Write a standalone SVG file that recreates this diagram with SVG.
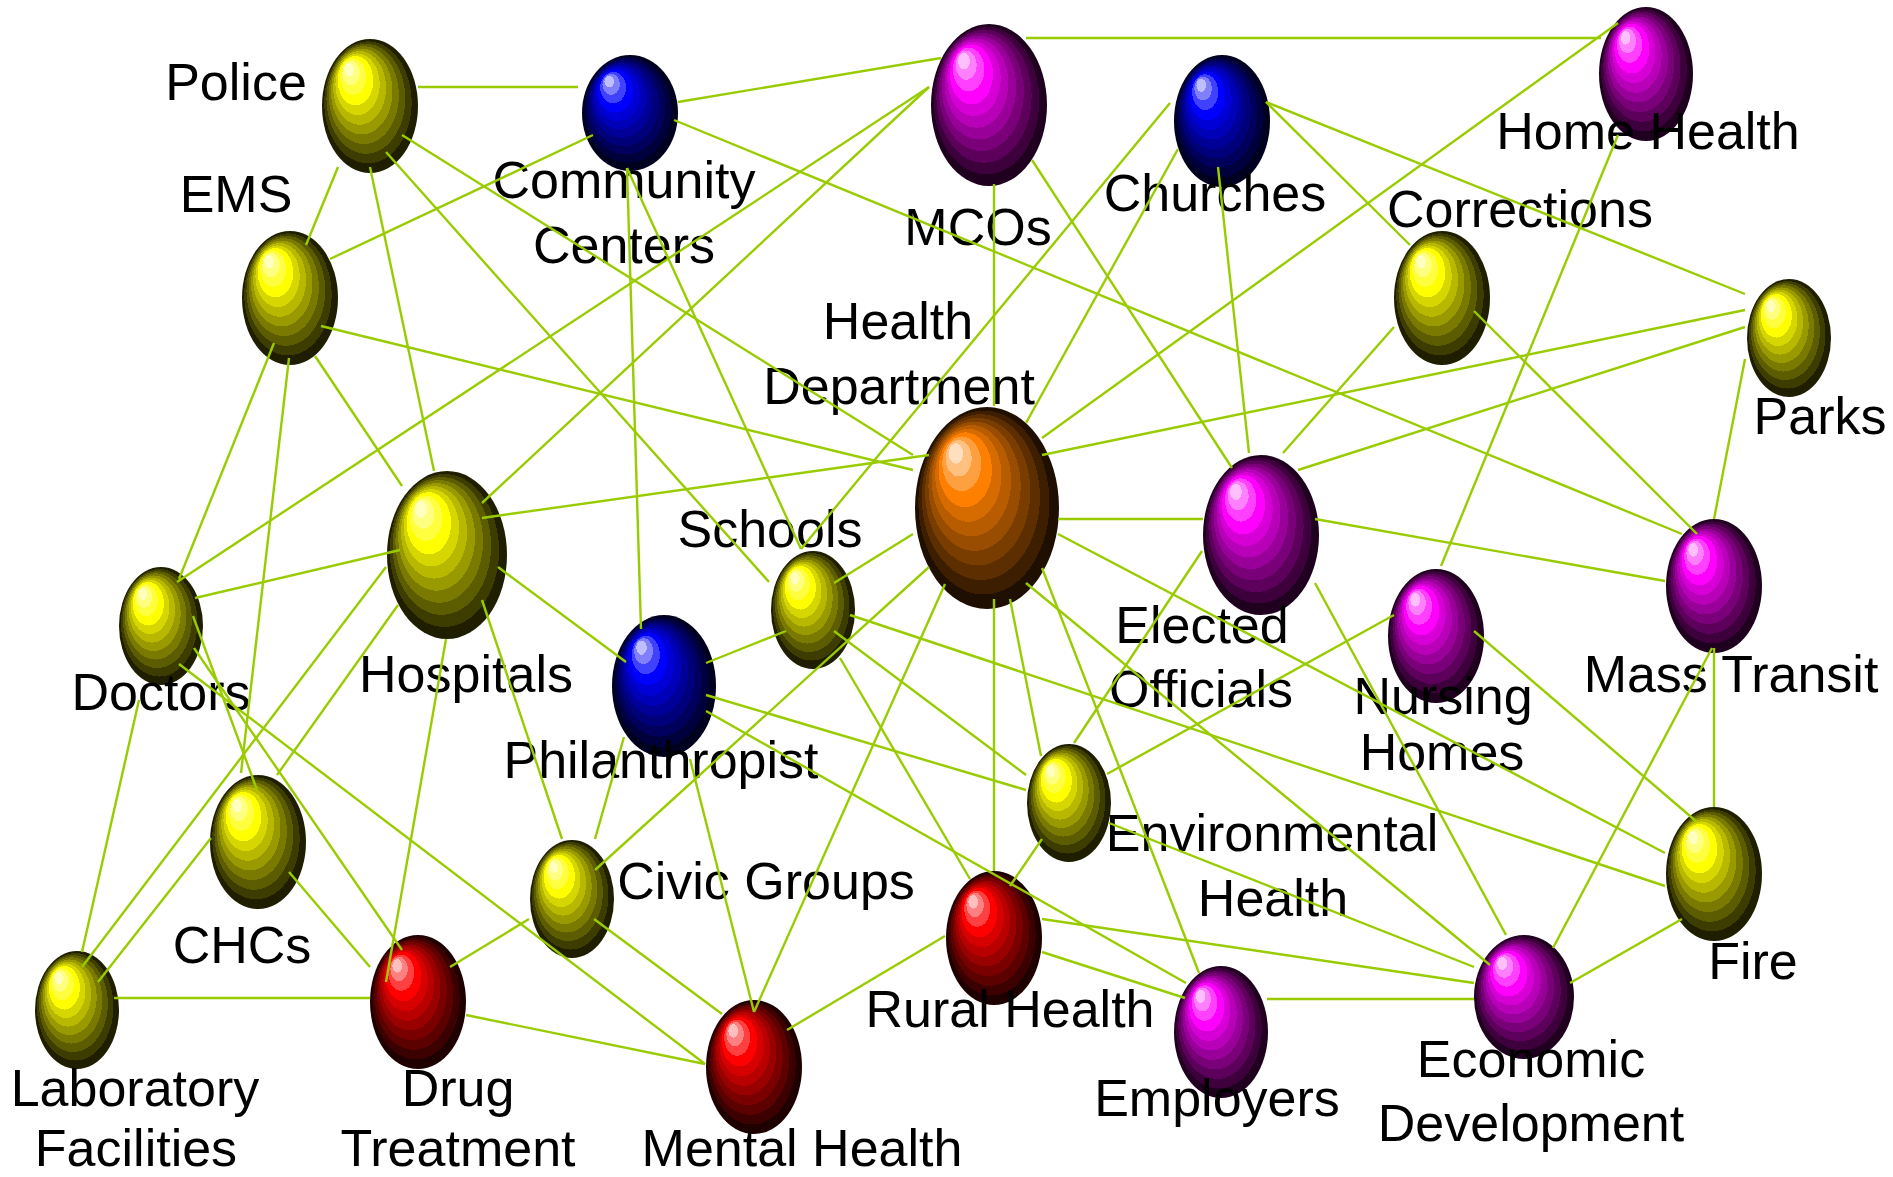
<svg xmlns="http://www.w3.org/2000/svg" width="1893" height="1177" viewBox="0 0 1893 1177">
<defs>
<style>
text{font-family:"Liberation Sans",Arial,sans-serif;font-size:52px;fill:#000;text-anchor:middle}
#connectors line{stroke:#99cc00;stroke-width:2.4;stroke-linecap:butt}
</style>
<radialGradient id="gO" cx="0.5" cy="0.5" r="0.5" fx="0.26" fy="0.2">
<stop offset="0" stop-color="#ffdfbf"/><stop offset="0.1" stop-color="#ffdfbf"/>
<stop offset="0.1" stop-color="#ffc080"/><stop offset="0.18" stop-color="#ffc080"/>
<stop offset="0.18" stop-color="#ffa040"/><stop offset="0.27" stop-color="#ffa040"/>
<stop offset="0.27" stop-color="#ff8000"/><stop offset="0.37" stop-color="#ff8000"/>
<stop offset="0.37" stop-color="#d66b00"/><stop offset="0.46" stop-color="#d66b00"/>
<stop offset="0.46" stop-color="#b85c00"/><stop offset="0.55" stop-color="#b85c00"/>
<stop offset="0.55" stop-color="#994d00"/><stop offset="0.64" stop-color="#994d00"/>
<stop offset="0.64" stop-color="#7a3d00"/><stop offset="0.73" stop-color="#7a3d00"/>
<stop offset="0.73" stop-color="#5c2e00"/><stop offset="0.82" stop-color="#5c2e00"/>
<stop offset="0.82" stop-color="#3d1f00"/><stop offset="0.91" stop-color="#3d1f00"/>
<stop offset="0.91" stop-color="#1f0f00"/><stop offset="1" stop-color="#1f0f00"/>
</radialGradient>
<radialGradient id="gY" cx="0.5" cy="0.5" r="0.5" fx="0.26" fy="0.2">
<stop offset="0" stop-color="#ffffbf"/><stop offset="0.1" stop-color="#ffffbf"/>
<stop offset="0.1" stop-color="#ffff80"/><stop offset="0.18" stop-color="#ffff80"/>
<stop offset="0.18" stop-color="#ffff40"/><stop offset="0.27" stop-color="#ffff40"/>
<stop offset="0.27" stop-color="#ffff00"/><stop offset="0.37" stop-color="#ffff00"/>
<stop offset="0.37" stop-color="#d6d600"/><stop offset="0.46" stop-color="#d6d600"/>
<stop offset="0.46" stop-color="#b8b800"/><stop offset="0.55" stop-color="#b8b800"/>
<stop offset="0.55" stop-color="#999900"/><stop offset="0.64" stop-color="#999900"/>
<stop offset="0.64" stop-color="#7a7a00"/><stop offset="0.73" stop-color="#7a7a00"/>
<stop offset="0.73" stop-color="#5c5c00"/><stop offset="0.82" stop-color="#5c5c00"/>
<stop offset="0.82" stop-color="#3d3d00"/><stop offset="0.91" stop-color="#3d3d00"/>
<stop offset="0.91" stop-color="#1f1f00"/><stop offset="1" stop-color="#1f1f00"/>
</radialGradient>
<radialGradient id="gB" cx="0.5" cy="0.5" r="0.5" fx="0.26" fy="0.2">
<stop offset="0" stop-color="#bfbfff"/><stop offset="0.1" stop-color="#bfbfff"/>
<stop offset="0.1" stop-color="#8080ff"/><stop offset="0.18" stop-color="#8080ff"/>
<stop offset="0.18" stop-color="#4040ff"/><stop offset="0.27" stop-color="#4040ff"/>
<stop offset="0.27" stop-color="#0000ff"/><stop offset="0.37" stop-color="#0000ff"/>
<stop offset="0.37" stop-color="#0000d6"/><stop offset="0.46" stop-color="#0000d6"/>
<stop offset="0.46" stop-color="#0000b8"/><stop offset="0.55" stop-color="#0000b8"/>
<stop offset="0.55" stop-color="#000099"/><stop offset="0.64" stop-color="#000099"/>
<stop offset="0.64" stop-color="#00007a"/><stop offset="0.73" stop-color="#00007a"/>
<stop offset="0.73" stop-color="#00005c"/><stop offset="0.82" stop-color="#00005c"/>
<stop offset="0.82" stop-color="#00003d"/><stop offset="0.91" stop-color="#00003d"/>
<stop offset="0.91" stop-color="#00001f"/><stop offset="1" stop-color="#00001f"/>
</radialGradient>
<radialGradient id="gM" cx="0.5" cy="0.5" r="0.5" fx="0.26" fy="0.2">
<stop offset="0" stop-color="#ffbfff"/><stop offset="0.1" stop-color="#ffbfff"/>
<stop offset="0.1" stop-color="#ff80ff"/><stop offset="0.18" stop-color="#ff80ff"/>
<stop offset="0.18" stop-color="#ff40ff"/><stop offset="0.27" stop-color="#ff40ff"/>
<stop offset="0.27" stop-color="#ff00ff"/><stop offset="0.37" stop-color="#ff00ff"/>
<stop offset="0.37" stop-color="#d600d6"/><stop offset="0.46" stop-color="#d600d6"/>
<stop offset="0.46" stop-color="#b800b8"/><stop offset="0.55" stop-color="#b800b8"/>
<stop offset="0.55" stop-color="#990099"/><stop offset="0.64" stop-color="#990099"/>
<stop offset="0.64" stop-color="#7a007a"/><stop offset="0.73" stop-color="#7a007a"/>
<stop offset="0.73" stop-color="#5c005c"/><stop offset="0.82" stop-color="#5c005c"/>
<stop offset="0.82" stop-color="#3d003d"/><stop offset="0.91" stop-color="#3d003d"/>
<stop offset="0.91" stop-color="#1f001f"/><stop offset="1" stop-color="#1f001f"/>
</radialGradient>
<radialGradient id="gR" cx="0.5" cy="0.5" r="0.5" fx="0.26" fy="0.2">
<stop offset="0" stop-color="#ffbfbf"/><stop offset="0.1" stop-color="#ffbfbf"/>
<stop offset="0.1" stop-color="#ff8080"/><stop offset="0.18" stop-color="#ff8080"/>
<stop offset="0.18" stop-color="#ff4040"/><stop offset="0.27" stop-color="#ff4040"/>
<stop offset="0.27" stop-color="#ff0000"/><stop offset="0.37" stop-color="#ff0000"/>
<stop offset="0.37" stop-color="#d60000"/><stop offset="0.46" stop-color="#d60000"/>
<stop offset="0.46" stop-color="#b80000"/><stop offset="0.55" stop-color="#b80000"/>
<stop offset="0.55" stop-color="#990000"/><stop offset="0.64" stop-color="#990000"/>
<stop offset="0.64" stop-color="#7a0000"/><stop offset="0.73" stop-color="#7a0000"/>
<stop offset="0.73" stop-color="#5c0000"/><stop offset="0.82" stop-color="#5c0000"/>
<stop offset="0.82" stop-color="#3d0000"/><stop offset="0.91" stop-color="#3d0000"/>
<stop offset="0.91" stop-color="#1f0000"/><stop offset="1" stop-color="#1f0000"/>
</radialGradient>
</defs>
<rect width="1893" height="1177" fill="#fff"/>
<g id="nodes">
<g id="police"><ellipse cx="370" cy="106" rx="48" ry="67" fill="url(#gY)"/><text x="236" y="100">Police</text></g>
<g id="community-centers"><ellipse cx="630" cy="113" rx="48" ry="58" fill="url(#gB)"/><text x="624" y="198">Community<tspan x="624" dy="65">Centers</tspan></text></g>
<g id="mcos"><ellipse cx="989" cy="105" rx="58" ry="81" fill="url(#gM)"/><text x="978" y="245">MCOs</text></g>
<g id="churches"><ellipse cx="1222" cy="121" rx="48" ry="66" fill="url(#gB)"/><text x="1215" y="211">Churches</text></g>
<g id="home-health"><ellipse cx="1646" cy="74" rx="47" ry="67" fill="url(#gM)"/><text x="1648" y="149">Home Health</text></g>
<g id="ems"><ellipse cx="290" cy="298" rx="48" ry="67" fill="url(#gY)"/><text x="236" y="212">EMS</text></g>
<g id="corrections"><ellipse cx="1442" cy="298" rx="48" ry="67" fill="url(#gY)"/><text x="1520" y="227">Corrections</text></g>
<g id="parks"><ellipse cx="1789" cy="338" rx="42" ry="59" fill="url(#gY)"/><text x="1820" y="434">Parks</text></g>
<g id="health-department"><ellipse cx="987" cy="508" rx="72" ry="101" fill="url(#gO)"/><text x="898" y="339">Health<tspan x="899" dy="65">Department</tspan></text></g>
<g id="elected-officials"><ellipse cx="1261" cy="535" rx="58" ry="80" fill="url(#gM)"/><text x="1202" y="643">Elected<tspan x="1201" dy="64">Officials</tspan></text></g>
<g id="hospitals"><ellipse cx="447" cy="555" rx="60" ry="84" fill="url(#gY)"/><text x="466" y="692">Hospitals</text></g>
<g id="doctors"><ellipse cx="161" cy="626" rx="42" ry="59" fill="url(#gY)"/><text x="161" y="710">Doctors</text></g>
<g id="schools"><ellipse cx="813" cy="610" rx="42" ry="59" fill="url(#gY)"/><text x="770" y="547">Schools</text></g>
<g id="philanthropist"><ellipse cx="664" cy="686" rx="52" ry="71" fill="url(#gB)"/><text x="661" y="778">Philanthropist</text></g>
<g id="nursing-homes"><ellipse cx="1436" cy="636" rx="48" ry="67" fill="url(#gM)"/><text x="1443" y="714">Nursing<tspan x="1442" dy="56">Homes</tspan></text></g>
<g id="mass-transit"><ellipse cx="1714" cy="586" rx="48" ry="67" fill="url(#gM)"/><text x="1731" y="692">Mass Transit</text></g>
<g id="chcs"><ellipse cx="258" cy="842" rx="48" ry="67" fill="url(#gY)"/><text x="242" y="963">CHCs</text></g>
<g id="environmental-health"><ellipse cx="1069" cy="803" rx="42" ry="59" fill="url(#gY)"/><text x="1272" y="851">Environmental<tspan x="1273" dy="65">Health</tspan></text></g>
<g id="civic-groups"><ellipse cx="572" cy="899" rx="42" ry="59" fill="url(#gY)"/><text x="766" y="899">Civic Groups</text></g>
<g id="fire"><ellipse cx="1714" cy="874" rx="48" ry="67" fill="url(#gY)"/><text x="1753" y="979">Fire</text></g>
<g id="rural-health"><ellipse cx="994" cy="938" rx="48" ry="67" fill="url(#gR)"/><text x="1010" y="1027">Rural Health</text></g>
<g id="laboratory-facilities"><ellipse cx="77" cy="1010" rx="42" ry="59" fill="url(#gY)"/><text x="135" y="1106">Laboratory<tspan x="136" dy="60">Facilities</tspan></text></g>
<g id="drug-treatment"><ellipse cx="418" cy="1002" rx="48" ry="67" fill="url(#gR)"/><text x="458" y="1106">Drug<tspan x="458" dy="60">Treatment</tspan></text></g>
<g id="mental-health"><ellipse cx="754" cy="1067" rx="48" ry="67" fill="url(#gR)"/><text x="802" y="1166">Mental Health</text></g>
<g id="employers"><ellipse cx="1221" cy="1032" rx="47" ry="66" fill="url(#gM)"/><text x="1217" y="1116">Employers</text></g>
<g id="economic-development"><ellipse cx="1524" cy="997" rx="50" ry="62" fill="url(#gM)"/><text x="1531" y="1077">Economic<tspan x="1531" dy="64">Development</tspan></text></g>
</g>
<g id="connectors">
<line x1="418" y1="87" x2="578" y2="87"/>
<line x1="338" y1="167" x2="306" y2="245"/>
<line x1="370" y1="167" x2="434" y2="471"/>
<line x1="386" y1="152" x2="769" y2="582"/>
<line x1="402" y1="135" x2="913" y2="455"/>
<line x1="593" y1="135" x2="330" y2="259"/>
<line x1="678" y1="102" x2="941" y2="58"/>
<line x1="674" y1="120" x2="1682" y2="534"/>
<line x1="627" y1="168" x2="641" y2="629"/>
<line x1="627" y1="168" x2="801" y2="549"/>
<line x1="1026" y1="38" x2="1601" y2="38"/>
<line x1="929" y1="87" x2="177" y2="582"/>
<line x1="929" y1="87" x2="482" y2="503"/>
<line x1="994" y1="184" x2="994" y2="406"/>
<line x1="1032" y1="160" x2="1232" y2="468"/>
<line x1="1170" y1="103" x2="801" y2="549"/>
<line x1="1178" y1="149" x2="1026" y2="423"/>
<line x1="1218" y1="167" x2="1249" y2="453"/>
<line x1="1266" y1="102" x2="1410" y2="245"/>
<line x1="1266" y1="102" x2="1745" y2="294"/>
<line x1="1042" y1="438" x2="1618" y2="23"/>
<line x1="1042" y1="455" x2="1745" y2="310"/>
<line x1="1394" y1="327" x2="1283" y2="453"/>
<line x1="1474" y1="311" x2="1697" y2="534"/>
<line x1="1618" y1="135" x2="1441" y2="566"/>
<line x1="1745" y1="327" x2="1298" y2="470"/>
<line x1="1745" y1="359" x2="1714" y2="519"/>
<line x1="1315" y1="519" x2="1665" y2="581"/>
<line x1="321" y1="326" x2="913" y2="470"/>
<line x1="315" y1="356" x2="402" y2="486"/>
<line x1="274" y1="343" x2="179" y2="579"/>
<line x1="289" y1="358" x2="241" y2="773"/>
<line x1="482" y1="518" x2="929" y2="455"/>
<line x1="400" y1="550" x2="195" y2="598"/>
<line x1="498" y1="567" x2="626" y2="662"/>
<line x1="386" y1="567" x2="82" y2="967"/>
<line x1="398" y1="605" x2="277" y2="775"/>
<line x1="446" y1="639" x2="386" y2="982"/>
<line x1="482" y1="600" x2="562" y2="839"/>
<line x1="139" y1="700" x2="82" y2="952"/>
<line x1="193" y1="616" x2="257" y2="790"/>
<line x1="194" y1="648" x2="402" y2="950"/>
<line x1="179" y1="664" x2="705" y2="1064"/>
<line x1="98" y1="982" x2="211" y2="838"/>
<line x1="114" y1="998" x2="370" y2="998"/>
<line x1="289" y1="872" x2="370" y2="967"/>
<line x1="529" y1="919" x2="450" y2="967"/>
<line x1="595" y1="839" x2="624" y2="737"/>
<line x1="595" y1="870" x2="929" y2="567"/>
<line x1="594" y1="919" x2="722" y2="1014"/>
<line x1="466" y1="1015" x2="705" y2="1064"/>
<line x1="786" y1="631" x2="706" y2="663"/>
<line x1="834" y1="583" x2="913" y2="534"/>
<line x1="850" y1="615" x2="1665" y2="886"/>
<line x1="834" y1="631" x2="1026" y2="775"/>
<line x1="840" y1="658" x2="970" y2="879"/>
<line x1="945" y1="584" x2="754" y2="1012"/>
<line x1="994" y1="599" x2="994" y2="871"/>
<line x1="1010" y1="599" x2="1041" y2="756"/>
<line x1="1042" y1="568" x2="1199" y2="973"/>
<line x1="1026" y1="583" x2="1490" y2="965"/>
<line x1="1058" y1="519" x2="1203" y2="519"/>
<line x1="1058" y1="534" x2="1665" y2="853"/>
<line x1="706" y1="695" x2="1026" y2="790"/>
<line x1="690" y1="759" x2="754" y2="1012"/>
<line x1="706" y1="711" x2="1186" y2="983"/>
<line x1="1074" y1="743" x2="1202" y2="551"/>
<line x1="1107" y1="774" x2="1394" y2="615"/>
<line x1="1042" y1="839" x2="1010" y2="886"/>
<line x1="1109" y1="823" x2="1474" y2="967"/>
<line x1="945" y1="936" x2="787" y2="1030"/>
<line x1="1042" y1="919" x2="1474" y2="983"/>
<line x1="1042" y1="952" x2="1185" y2="998"/>
<line x1="1267" y1="999" x2="1474" y2="999"/>
<line x1="1315" y1="583" x2="1506" y2="935"/>
<line x1="1712" y1="648" x2="1553" y2="948"/>
<line x1="1714" y1="648" x2="1714" y2="807"/>
<line x1="1474" y1="631" x2="1697" y2="822"/>
<line x1="1682" y1="919" x2="1570" y2="983"/>
</g>
</svg>
